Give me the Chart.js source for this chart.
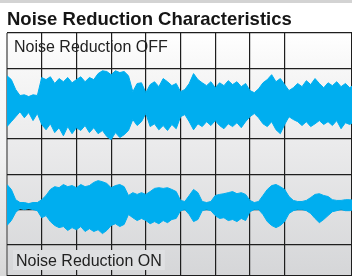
<!DOCTYPE html>
<html>
<head>
<meta charset="utf-8">
<script src="https://cdn.jsdelivr.net/npm/chart.js@4.4.1/dist/chart.umd.min.js"></script>
<style>
  html, body { margin: 0; padding: 0; background: #fff; }
  #waveChart { display: block; }
</style>
</head>
<body>
<canvas id="waveChart" width="352" height="276"></canvas>
<script>
const titleText = "Noise Reduction Characteristics";
const offLabel = "Noise Reduction OFF";
const onLabel = "Noise Reduction ON";

// one sample every 1/8 of a grid column, amplitude in level units (10 = one grid row)
const offUp = [7.9, 6.8, 4.0, 2.3, 2.5, 2.0, 2.5, 2.3, 7.4, 6.8, 7.6, 5.7, 7.1, 6.2, 7.4, 5.9, 6.8, 7.6, 6.2, 7.4,
  6.8, 8.5, 9.3, 9.1, 8.2, 9.3, 8.8, 9.1, 7.9, 3.4, 5.7, 5.9, 3.1, 5.4, 6.2, 4.8, 7.1, 6.2, 5.1, 5.7,
  3.4, 4.0, 5.7, 8.5, 6.8, 5.9, 5.1, 6.2, 4.5, 5.9, 5.1, 6.5, 5.4, 6.2, 4.8, 5.7, 3.7, 3.1, 4.2, 5.9,
  6.8, 8.2, 6.2, 7.1, 5.4, 3.7, 4.5, 5.7, 4.8, 6.5, 5.4, 7.1, 5.7, 4.5, 5.9, 5.1, 6.2, 4.8, 5.7, 4.5, 5.4];
const offDown = [6.5, 5.1, 3.7, 2.3, 4.0, 2.5, 4.8, 2.8, 5.9, 7.4, 5.7, 8.2, 6.8, 9.1, 6.5, 8.5, 6.8, 7.6, 6.2, 8.2,
  6.8, 8.5, 7.6, 9.3, 10.2, 8.2, 9.6, 8.8, 7.6, 4.5, 6.2, 5.1, 2.8, 6.5, 5.7, 7.4, 6.2, 7.6, 5.9, 7.1,
  3.7, 3.1, 5.1, 7.4, 5.7, 6.5, 5.1, 6.2, 4.8, 6.2, 7.1, 5.7, 6.5, 5.4, 6.8, 5.1, 3.7, 2.8, 4.0, 5.7,
  6.5, 5.1, 7.4, 8.5, 5.9, 3.7, 4.5, 5.1, 6.2, 5.1, 6.5, 5.7, 4.8, 5.9, 5.1, 6.2, 4.8, 7.1, 5.4, 5.9, 5.1];
const onUp = [6.1, 4.7, 1.8, 1.0, 1.0, 0.7, 1.0, 1.0, 1.8, 3.0, 4.7, 5.5, 5.2, 6.1, 5.5, 5.8, 5.2, 6.1, 5.5, 5.8,
  6.7, 7.2, 6.9, 6.4, 5.2, 5.8, 6.1, 5.5, 3.0, 3.8, 3.3, 3.8, 3.3, 4.1, 5.0, 5.2, 5.0, 5.2, 4.7, 4.1,
  1.6, 1.3, 3.0, 4.7, 3.8, 1.3, 1.0, 1.3, 3.0, 3.3, 3.5, 3.8, 4.1, 3.5, 3.8, 3.3, 1.6, 1.0, 1.3, 3.0,
  4.7, 5.8, 6.1, 5.5, 4.7, 2.7, 1.6, 1.3, 1.3, 1.6, 2.4, 3.3, 3.5, 3.0, 2.7, 1.8, 1.6, 1.6, 1.8, 1.8, 1.6];
const onDown = [5.5, 4.1, 1.8, 0.7, 1.0, 0.7, 1.0, 1.3, 3.3, 2.7, 4.4, 5.5, 6.1, 5.8, 6.9, 6.1, 6.7, 5.8, 7.2, 6.4,
  7.2, 6.7, 7.8, 6.9, 5.5, 5.0, 5.8, 5.2, 2.4, 3.3, 4.1, 3.5, 4.1, 5.0, 4.4, 5.0, 4.1, 4.7, 3.8, 3.5,
  1.3, 1.0, 2.4, 4.4, 3.8, 1.3, 1.0, 1.3, 2.7, 3.5, 3.3, 4.1, 3.8, 4.4, 3.5, 4.1, 1.6, 1.0, 1.0, 2.4,
  4.4, 5.5, 6.1, 5.5, 4.4, 2.1, 1.3, 1.0, 1.0, 1.3, 2.1, 3.5, 4.7, 3.8, 2.7, 1.6, 1.3, 1.0, 1.3, 1.3, 1.0];

const offCenter = 0;
const onCenter = -29;
const waveColor = "#00aeef";

const time = offUp.map((_, i) => i / 8);

function envelope(center, amp, sign) {
  return amp.map((a, i) => ({ x: time[i], y: center + sign * a }));
}

const backdrop = {
  id: "backdrop",
  beforeDraw(chart) {
    const { ctx, chartArea } = chart;
    ctx.save();
    ctx.fillStyle = "#ffffff";
    ctx.fillRect(0, 0, chart.width, chart.height);
    ctx.fillStyle = "#d3d3d3";
    ctx.fillRect(0, 0, chart.width, 3);
    const side = ctx.createLinearGradient(0, chartArea.top, 0, chart.height);
    side.addColorStop(0, "#ffffff");
    side.addColorStop(0.5, "#f2f2f2");
    side.addColorStop(1, "#d8d8d8");
    ctx.fillStyle = side;
    ctx.fillRect(0, chartArea.top, chartArea.left, chart.height - chartArea.top);
    const bg = ctx.createLinearGradient(0, chartArea.top, 0, chartArea.bottom);
    bg.addColorStop(0, "#ffffff");
    bg.addColorStop(0.15, "#f7f7f7");
    bg.addColorStop(0.45, "#ebebec");
    bg.addColorStop(1, "#d5d6d8");
    ctx.fillStyle = bg;
    ctx.fillRect(chartArea.left, chartArea.top, chartArea.right - chartArea.left, chartArea.bottom - chartArea.top);
    ctx.restore();
  },
  afterDatasetsDraw(chart) {
    const { ctx, chartArea } = chart;
    ctx.save();
    ctx.font = '16px "Liberation Sans", Arial, sans-serif';
    ctx.textBaseline = "alphabetic";
    ctx.fillStyle = "#dfe0e2";
    ctx.fillRect(chartArea.left + 6, 250, ctx.measureText(onLabel).width + 6, 20);
    ctx.fillStyle = "#222222";
    ctx.fillText(offLabel, chartArea.left + 7, 52);
    ctx.fillText(onLabel, chartArea.left + 9, 266);
    ctx.restore();
  }
};

const gridStyle = {
  color: (c) => (c.tick && c.tick.value === 0 && c.scale.axis === "x" ? "#8a8a8a" : "#1e1e1e"),
  lineWidth: (c) => (c.tick && c.tick.value === 0 && c.scale.axis === "x" ? 2 : 1.2),
  drawTicks: false
};

new Chart(document.getElementById("waveChart"), {
  type: "line",
  data: {
    datasets: [
      { data: envelope(offCenter, offUp, 1), borderColor: waveColor, backgroundColor: waveColor, borderWidth: 1, pointRadius: 0, fill: false },
      { data: envelope(offCenter, offDown, -1), borderColor: waveColor, backgroundColor: waveColor, borderWidth: 1, pointRadius: 0, fill: "-1" },
      { data: envelope(onCenter, onUp, 1), borderColor: waveColor, backgroundColor: waveColor, borderWidth: 1, pointRadius: 0, fill: false },
      { data: envelope(onCenter, onDown, -1), borderColor: waveColor, backgroundColor: waveColor, borderWidth: 1, pointRadius: 0, fill: "-1" }
    ]
  },
  options: {
    responsive: false,
    devicePixelRatio: 1,
    animation: false,
    layout: { padding: { left: 7, right: 0, top: 0, bottom: 0 } },
    plugins: {
      legend: { display: false },
      tooltip: { enabled: false },
      title: {
        display: true,
        text: titleText,
        align: "start",
        color: "#151515",
        font: { family: "'Liberation Sans', Arial, sans-serif", size: 18.5, weight: "bold" },
        padding: { top: 9, bottom: 1.8 }
      }
    },
    scales: {
      x: {
        type: "linear",
        min: 0,
        max: 9.94,
        ticks: { display: false, stepSize: 1 },
        grid: gridStyle,
        border: { display: false }
      },
      y: {
        min: -48.8,
        max: 20,
        ticks: { display: false, stepSize: 10 },
        grid: gridStyle,
        border: { display: false }
      }
    }
  },
  plugins: [backdrop]
});
</script>
</body>
</html>
